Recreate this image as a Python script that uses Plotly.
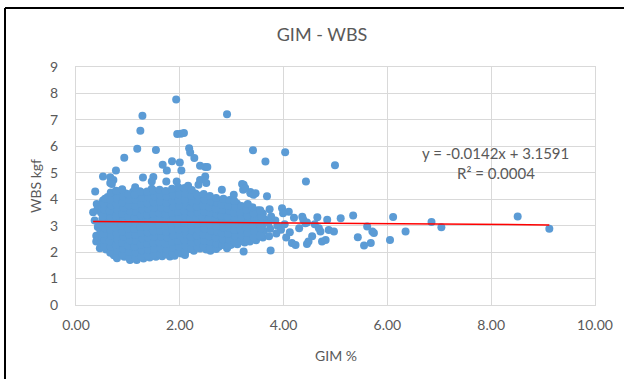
import plotly.graph_objects as go

# ---- data ----
gim = [
    0.37, 0.33, 0.40, 0.36, 0.42, 0.39, 0.39, 0.41, 0.44,
    0.46, 0.48, 0.50, 0.47, 0.49, 0.51, 0.48, 0.50, 0.52, 0.52,
    0.58, 0.60, 0.62, 0.59, 0.61, 0.63, 0.60, 0.62, 0.59, 0.61, 0.66, 0.66,
    0.69, 0.73, 0.71, 0.74, 0.70, 0.72, 0.75, 0.71, 0.73, 0.70, 0.74, 0.72, 0.72, 0.69, 0.77,
    0.79, 0.83, 0.85, 0.82, 0.86, 0.84, 0.81, 0.85, 0.83, 0.86, 0.82, 0.85, 0.84,
    0.93, 0.97, 0.95, 0.98, 0.94, 0.97, 0.99, 0.95, 0.98, 0.94, 0.97, 0.96, 0.93,
    1.04, 1.08, 1.06, 1.10, 1.07, 1.09, 1.05, 1.08, 1.11, 1.06, 1.09, 1.07, 1.10,
    1.17, 1.21, 1.19, 1.22, 1.18, 1.21, 1.23, 1.19, 1.22, 1.18, 1.21, 1.20, 1.23, 1.18, 1.24, 1.28,
    1.30, 1.33, 1.31, 1.34, 1.30, 1.33, 1.35, 1.31, 1.34, 1.30, 1.33, 1.32, 1.29,
    1.42, 1.45, 1.43, 1.46, 1.42, 1.45, 1.47, 1.43, 1.46, 1.42, 1.45, 1.44, 1.46, 1.49, 1.46,
    1.54, 1.57, 1.55, 1.58, 1.54, 1.57, 1.59, 1.55, 1.58, 1.54, 1.57, 1.56, 1.54,
    1.66, 1.69, 1.67, 1.70, 1.66, 1.69, 1.71, 1.67, 1.70, 1.66, 1.69, 1.68, 1.67, 1.74, 1.75,
    1.81, 1.79, 1.82, 1.78, 1.81, 1.83, 1.79, 1.82, 1.78, 1.81, 1.80, 1.83, 1.85,
    1.90, 1.93, 1.91, 1.94, 1.90, 1.93, 1.95, 1.91, 1.94, 1.90, 1.93, 1.92, 1.94, 1.93, 1.95,
    2.03, 2.06, 2.04, 2.07, 2.03, 2.06, 2.08, 2.04, 2.07, 2.03, 2.06, 2.05, 2.02, 2.08, 2.00, 2.03,
    2.10, 2.14, 2.17, 2.15, 2.18, 2.14, 2.17, 2.19, 2.15, 2.18, 2.14, 2.17, 2.16, 2.18, 2.20, 2.28,
    2.27, 2.30, 2.28, 2.31, 2.27, 2.30, 2.32, 2.28, 2.31, 2.27, 2.30, 2.36, 2.39,
    2.39, 2.42, 2.40, 2.43, 2.39, 2.42, 2.44, 2.40, 2.43, 2.39, 2.39, 2.49, 2.53,
    2.51, 2.54, 2.52, 2.55, 2.51, 2.54, 2.56, 2.52, 2.55, 2.51, 2.49, 2.51,
    2.59, 2.63, 2.66, 2.64, 2.67, 2.63, 2.66, 2.68, 2.64, 2.67,
    2.75, 2.78, 2.76, 2.79, 2.75, 2.78, 2.80, 2.76, 2.79, 2.81,
    2.91, 2.87, 2.90, 2.88, 2.91, 2.87, 2.90, 2.92, 2.88, 2.91,
    2.99, 3.02, 3.00, 3.03, 2.99, 3.02, 3.04, 3.00, 3.04,
    3.11, 3.14, 3.12, 3.15, 3.11, 3.14, 3.13, 3.10, 3.20,
    3.23, 3.25, 3.22, 3.26, 3.23, 3.26, 3.22, 3.25, 3.22, 3.23, 3.26,
    3.35, 3.38, 3.34, 3.37, 3.35, 3.38, 3.36, 3.36, 3.42, 3.46,
    3.47, 3.50, 3.48, 3.51, 3.47, 3.50, 3.41, 3.65,
    3.60, 3.62, 3.59, 3.63, 3.60, 3.68,
    3.72, 3.75, 3.74, 3.71, 3.76, 3.73,
    3.86, 3.88, 3.84, 3.97, 4.10, 3.99, 3.95, 4.02, 4.16, 4.23, 4.05, 4.20, 4.36, 4.38,
    4.42, 4.45, 4.45, 4.48, 4.03, 4.43, 4.30, 4.12,
    4.65, 4.84, 5.10, 5.34, 6.11, 6.85, 4.71, 4.87, 4.97, 4.68, 5.61, 5.71, 5.74, 5.43,
    5.55, 5.68, 6.05, 6.35, 4.74, 4.81, 7.04, 8.51, 9.12, 4.99, 4.60, 4.55,
]
wbs = [
    4.29, 3.51, 3.82, 3.20, 2.95, 2.62, 2.40, 3.60, 3.05,
    2.15, 2.35, 2.58, 2.80, 3.02, 3.28, 3.50, 3.74, 3.95, 4.86,
    2.10, 2.30, 2.52, 2.75, 2.97, 3.20, 3.44, 3.66, 3.88, 4.08, 4.83, 4.61,
    2.06, 1.88, 2.28, 2.48, 2.70, 2.92, 3.14, 3.36, 3.58, 3.80, 4.02, 4.20, 4.73, 4.58, 5.09,
    1.77, 1.95, 2.15, 2.37, 2.58, 2.80, 3.02, 3.24, 3.46, 3.68, 3.90, 4.10, 4.30,
    1.82, 2.02, 2.24, 2.46, 2.68, 2.90, 3.12, 3.34, 3.56, 3.78, 4.00, 4.22, 5.57,
    1.70, 1.90, 2.12, 2.34, 2.56, 2.78, 3.00, 3.22, 3.44, 3.66, 3.88, 4.08, 4.28,
    1.70, 1.86, 2.08, 2.30, 2.52, 2.74, 2.96, 3.18, 3.40, 3.62, 3.84, 4.06, 4.30, 5.91, 6.59, 7.16,
    1.76, 1.96, 2.18, 2.40, 2.62, 2.84, 3.06, 3.28, 3.50, 3.72, 3.94, 4.16, 4.82,
    1.80, 1.98, 2.20, 2.42, 2.64, 2.86, 3.08, 3.30, 3.52, 3.74, 3.96, 4.18, 4.40, 4.84, 4.67,
    1.82, 2.02, 2.24, 2.46, 2.68, 2.90, 3.12, 3.34, 3.56, 3.78, 4.00, 4.22, 5.86,
    1.84, 2.04, 2.26, 2.48, 2.70, 2.92, 3.14, 3.36, 3.58, 3.80, 4.02, 4.24, 5.30, 4.67, 5.09,
    1.83, 2.00, 2.22, 2.44, 2.66, 2.88, 3.10, 3.32, 3.54, 3.76, 3.98, 4.20, 5.44,
    1.86, 2.06, 2.28, 2.50, 2.72, 2.94, 3.16, 3.38, 3.60, 3.82, 4.04, 4.26, 4.67, 7.77, 6.47,
    1.95, 2.14, 2.36, 2.58, 2.80, 3.02, 3.24, 3.46, 3.68, 3.90, 4.12, 4.34, 6.48, 6.50, 5.39, 5.09,
    1.89, 2.10, 2.32, 2.54, 2.76, 2.98, 3.20, 3.42, 3.64, 3.86, 4.08, 4.30, 4.51, 5.93, 5.77, 5.56,
    2.05, 2.26, 2.48, 2.70, 2.92, 3.14, 3.36, 3.58, 3.80, 4.02, 4.22, 4.55, 4.73,
    2.14, 2.34, 2.56, 2.78, 3.00, 3.22, 3.44, 3.66, 3.88, 4.10, 5.27, 5.22, 5.22,
    2.10, 2.30, 2.52, 2.74, 2.96, 3.18, 3.40, 3.62, 3.84, 4.06, 4.86, 4.61,
    2.05, 2.24, 2.46, 2.68, 2.90, 3.12, 3.34, 3.56, 3.78, 3.98,
    2.20, 2.42, 2.64, 2.86, 3.08, 3.30, 3.52, 3.74, 3.94, 4.36,
    2.15, 2.36, 2.58, 2.80, 3.02, 3.24, 3.46, 3.68, 3.88, 7.21,
    2.28, 2.50, 2.72, 2.94, 3.16, 3.38, 3.60, 3.80, 4.17,
    2.30, 2.52, 2.74, 2.96, 3.18, 3.40, 3.62, 3.84, 4.58,
    2.02, 2.36, 2.58, 2.80, 3.02, 3.24, 3.46, 3.68, 4.36, 4.55, 4.42,
    2.40, 2.62, 2.84, 3.06, 3.28, 3.50, 4.27, 4.23, 4.17, 4.23,
    2.45, 2.70, 2.92, 3.14, 3.36, 3.58, 5.85, 5.43,
    2.55, 2.80, 3.02, 3.24, 3.46, 4.11,
    2.60, 2.06, 2.88, 3.10, 3.35, 3.62,
    2.70, 3.00, 3.20, 3.66, 3.53, 3.47, 2.85, 3.05, 2.34, 2.27, 2.55, 3.30, 3.34, 3.22,
    3.09, 3.12, 2.31, 2.40, 5.78, 4.67, 2.90, 2.75,
    3.32, 3.22, 3.28, 3.38, 3.33, 3.14, 2.78, 2.84, 2.78, 2.90, 2.97, 2.78, 2.72, 2.56,
    2.25, 2.34, 2.46, 2.78, 2.40, 2.46, 2.94, 3.35, 2.88, 5.28, 3.05, 2.60,
]

# second set of samples in the dense core of the cloud
gim_core = [
    0.54, 0.55, 0.53, 0.56, 0.54, 0.52, 0.55, 0.53, 0.56,
    0.66, 0.67, 0.65, 0.68, 0.66, 0.64, 0.67, 0.65, 0.68, 0.66, 0.67,
    0.78, 0.79, 0.77, 0.80, 0.78, 0.76, 0.79, 0.77, 0.80, 0.78, 0.79, 0.77,
    0.90, 0.91, 0.89, 0.92, 0.90, 0.88, 0.91, 0.89, 0.92, 0.90, 0.91, 0.89,
    1.02, 1.03, 1.01, 1.04, 1.02, 1.00, 1.03, 1.01, 1.04, 1.02, 1.03, 1.01,
    1.14, 1.15, 1.13, 1.16, 1.14, 1.12, 1.15, 1.13, 1.16, 1.14, 1.15, 1.13, 1.14,
    1.26, 1.27, 1.25, 1.28, 1.26, 1.24, 1.27, 1.25, 1.28, 1.26, 1.27, 1.25,
    1.38, 1.39, 1.37, 1.40, 1.38, 1.36, 1.39, 1.37, 1.40, 1.38, 1.39, 1.37,
    1.50, 1.51, 1.49, 1.52, 1.50, 1.48, 1.51, 1.49, 1.52, 1.50, 1.51, 1.49,
    1.62, 1.63, 1.61, 1.64, 1.62, 1.60, 1.63, 1.61, 1.64, 1.62, 1.63, 1.61,
    1.74, 1.75, 1.73, 1.76, 1.74, 1.72, 1.75, 1.73, 1.76, 1.74, 1.75, 1.73,
    1.86, 1.87, 1.85, 1.88, 1.86, 1.84, 1.87, 1.85, 1.88, 1.86, 1.87, 1.85,
    1.98, 1.99, 1.97, 2.00, 1.98, 1.96, 1.99, 1.97, 2.00, 1.98, 1.99, 1.97,
    2.10, 2.11, 2.09, 2.12, 2.10, 2.08, 2.11, 2.09, 2.12, 2.10, 2.11, 2.09,
    2.22, 2.23, 2.21, 2.24, 2.22, 2.20, 2.23, 2.21, 2.24, 2.22, 2.23,
    2.34, 2.35, 2.33, 2.36, 2.34, 2.32, 2.35, 2.33, 2.36, 2.34,
    2.46, 2.47, 2.45, 2.48, 2.46, 2.44, 2.47, 2.45, 2.48, 2.46,
    2.58, 2.59, 2.57, 2.60, 2.58, 2.56, 2.59, 2.57, 2.60, 2.58,
    2.70, 2.71, 2.69, 2.72, 2.70, 2.68, 2.71, 2.69, 2.72, 2.70,
    2.82, 2.83, 2.81, 2.84, 2.82, 2.80, 2.83, 2.81, 2.84,
    2.94, 2.95, 2.93, 2.96, 2.94, 2.92, 2.95, 2.93, 2.96,
    3.06, 3.07, 3.05, 3.08, 3.06, 3.04, 3.07, 3.05,
    3.18, 3.19, 3.17, 3.20, 3.18, 3.16, 3.19,
    3.30, 3.31, 3.29, 3.32, 3.30, 3.28, 3.31,
    3.42, 3.43, 3.41, 3.44, 3.42, 3.40,
    3.55, 3.56, 3.54, 3.57, 3.55,
]
wbs_core = [
    2.22, 2.46, 2.69, 2.90, 3.13, 3.37, 3.60, 3.84, 4.02,
    1.98, 2.19, 2.41, 2.63, 2.86, 3.08, 3.31, 3.55, 3.77, 3.99, 4.25,
    1.83, 2.05, 2.27, 2.49, 2.71, 2.93, 3.15, 3.37, 3.59, 3.81, 4.03, 4.32,
    1.91, 2.13, 2.35, 2.57, 2.79, 3.01, 3.23, 3.45, 3.67, 3.89, 4.11, 4.38,
    1.80, 2.01, 2.23, 2.45, 2.67, 2.89, 3.11, 3.33, 3.55, 3.77, 3.98, 4.19,
    1.78, 1.99, 2.21, 2.43, 2.65, 2.87, 3.09, 3.31, 3.53, 3.75, 3.97, 4.18, 4.45,
    1.83, 2.07, 2.29, 2.51, 2.73, 2.95, 3.17, 3.39, 3.61, 3.83, 4.05, 4.27,
    1.87, 2.09, 2.31, 2.53, 2.75, 2.97, 3.19, 3.41, 3.63, 3.85, 4.07, 4.29,
    1.90, 2.13, 2.35, 2.57, 2.79, 3.01, 3.23, 3.45, 3.67, 3.89, 4.11, 4.33,
    1.93, 2.15, 2.37, 2.59, 2.81, 3.03, 3.25, 3.47, 3.69, 3.91, 4.13, 4.36,
    1.92, 2.11, 2.33, 2.55, 2.77, 2.99, 3.21, 3.43, 3.65, 3.87, 4.09, 4.31,
    1.95, 2.17, 2.39, 2.61, 2.83, 3.05, 3.27, 3.49, 3.71, 3.93, 4.15, 4.40,
    1.98, 2.20, 2.42, 2.64, 2.86, 3.08, 3.30, 3.52, 3.74, 3.96, 4.18, 4.45,
    2.01, 2.23, 2.45, 2.67, 2.89, 3.11, 3.33, 3.55, 3.77, 3.99, 4.21, 4.42,
    2.12, 2.36, 2.58, 2.80, 3.02, 3.24, 3.46, 3.68, 3.90, 4.12, 4.35,
    2.18, 2.40, 2.62, 2.84, 3.06, 3.28, 3.50, 3.72, 3.94, 4.15,
    2.22, 2.44, 2.66, 2.88, 3.10, 3.32, 3.54, 3.76, 3.98, 4.20,
    2.16, 2.38, 2.60, 2.82, 3.04, 3.26, 3.48, 3.70, 3.92, 4.12,
    2.12, 2.33, 2.55, 2.77, 2.99, 3.21, 3.43, 3.65, 3.86, 4.05,
    2.27, 2.49, 2.71, 2.93, 3.15, 3.37, 3.59, 3.80, 4.02,
    2.24, 2.47, 2.69, 2.91, 3.13, 3.35, 3.57, 3.76, 3.97,
    2.40, 2.62, 2.84, 3.06, 3.28, 3.50, 3.72, 3.93,
    2.42, 2.64, 2.86, 3.08, 3.30, 3.52, 3.74,
    2.50, 2.72, 2.94, 3.16, 3.38, 3.60, 3.82,
    2.56, 2.80, 3.02, 3.25, 3.47, 3.70,
    2.62, 2.90, 3.12, 3.35, 3.58,
]

# Excel linear trendline coefficients shown on the chart
slope = -0.0142
intercept = 3.1591
eq_text = "y = -0.0142x + 3.1591"
r2_text = "R² = 0.0004"

x_ticks = [0, 2, 4, 6, 8, 10]
y_ticks = [0, 1, 2, 3, 4, 5, 6, 7, 8, 9]

FONT = "Lato, Open Sans, sans-serif"
GREY = "#595959"
GRID = "#D9D9D9"

all_x = gim + gim_core
all_y = wbs + wbs_core

x_trend = [min(all_x), max(all_x)]
y_trend = [slope * v + intercept for v in x_trend]

# plot area in pixels (624 x 379 page)
L, R, T, B = 76, 595, 67, 305
PW, PH = R - L, B - T


def px(xp):
    return (xp - L) / PW


def py(yp):
    return (B - yp) / PH


fig = go.Figure()
fig.add_trace(go.Scatter(
    x=all_x, y=all_y, mode="markers",
    marker=dict(color="#5B9BD5", size=8, line=dict(width=0)),
    showlegend=False, hoverinfo="x+y",
))
fig.add_trace(go.Scatter(
    x=x_trend, y=y_trend, mode="lines",
    line=dict(color="#FF0000", width=1.5),
    showlegend=False, hoverinfo="skip",
))

fig.update_layout(
    width=624, height=379,
    margin=dict(l=L, r=624 - R, t=T, b=379 - B, autoexpand=False),
    paper_bgcolor="white", plot_bgcolor="white",
    font=dict(family=FONT, color=GREY, size=14),
    title=dict(text="GIM - WBS", x=322 / 624, xanchor="center",
               xref="container",
               y=1 - 35 / 379, yanchor="middle",
               font=dict(family=FONT, size=18, color=GREY)),
    xaxis=dict(range=[0, 10], tickvals=x_ticks,
               ticktext=[f"{v:.2f}" for v in x_ticks],
               showgrid=True, gridcolor=GRID, gridwidth=1,
               zeroline=False, showline=True, linecolor=GRID, mirror=True,
               ticks="", ticklabelstandoff=7,
               tickfont=dict(family=FONT, size=14, color=GREY)),
    yaxis=dict(range=[0, 9], tickvals=y_ticks,
               showgrid=True, gridcolor=GRID, gridwidth=1,
               zeroline=False, showline=True, linecolor=GRID, mirror=True,
               ticks="", ticklabelstandoff=14,
               tickfont=dict(family=FONT, size=14, color=GREY)),
    annotations=[
        dict(x=8.09, y=5.75, xref="x", yref="y", text=eq_text,
             showarrow=False, xanchor="center", yanchor="middle",
             font=dict(family=FONT, size=15, color=GREY)),
        dict(x=8.09, y=4.99, xref="x", yref="y", text=r2_text,
             showarrow=False, xanchor="center", yanchor="middle",
             font=dict(family=FONT, size=15, color=GREY)),
        dict(x=0.5, y=py(355), xref="paper", yref="paper", text="GIM %",
             showarrow=False, xanchor="center", yanchor="middle",
             font=dict(family=FONT, size=14, color=GREY)),
        dict(x=px(35), y=py(186), xref="paper", yref="paper", text="WBS kgf",
             textangle=-90, showarrow=False, xanchor="center", yanchor="middle",
             font=dict(family=FONT, size=14, color=GREY)),
    ],
    shapes=[
        dict(type="line", xref="paper", yref="paper",
             x0=px(5), x1=px(5), y0=py(8), y1=py(381),
             line=dict(color="black", width=2)),
        dict(type="line", xref="paper", yref="paper",
             x0=px(5), x1=px(626), y0=py(8), y1=py(8),
             line=dict(color="black", width=2)),
    ],
)

fig.write_html(
    "out.html",
    config={"displayModeBar": False},
    post_script="document.body.style.margin='0';document.body.style.overflow='hidden';",
)
